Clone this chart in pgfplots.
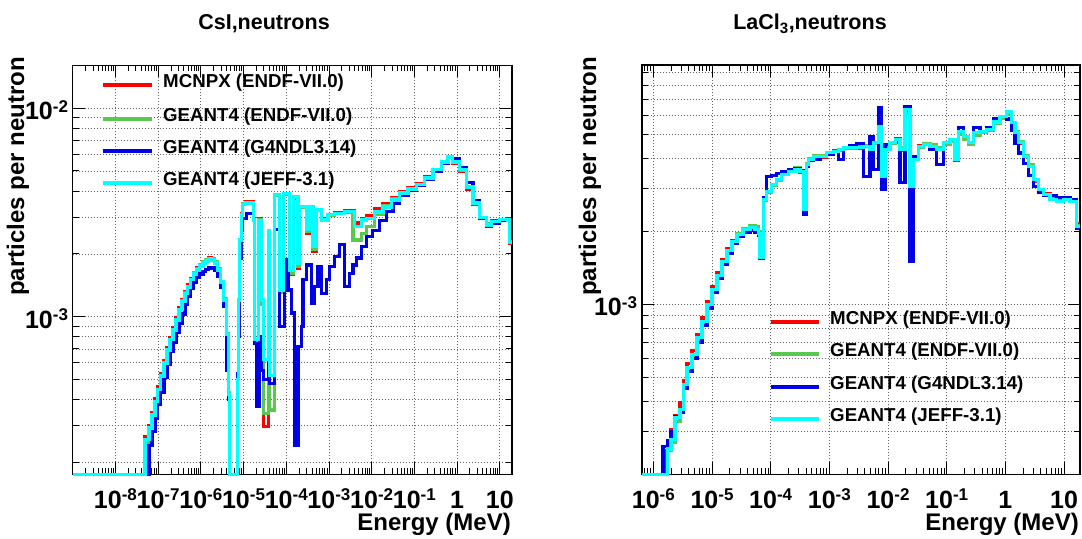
\documentclass[border=0pt]{standalone}
\usepackage{fontspec}
\setmainfont{Liberation Sans}
\usepackage{pgfplots}
\pgfplotsset{compat=1.18}
\definecolor{cred}{RGB}{255,0,0}
\definecolor{cgreen}{RGB}{90,200,80}
\definecolor{cblue}{RGB}{0,0,230}
\definecolor{ccyan}{RGB}{0,255,255}
\newcommand{\tickfont}{\fontsize{25bp}{27bp}\selectfont\bfseries}
\newcommand{\legfont}{\fontsize{18.7bp}{21bp}\selectfont\bfseries}
\newcommand{\labfont}{\fontsize{24bp}{26bp}\selectfont\bfseries}
\newcommand{\titfont}{\fontsize{21.5bp}{24bp}\selectfont\bfseries}
\newcommand{\tl}[1]{10\raisebox{7.5bp}{\fontsize{17bp}{17bp}\selectfont #1}}
\pgfplotsset{
  rootax/.style={
    scale only axis, clip=false,
    axis line style={line width=1.6bp},
    tick pos=both,
    major tick length=12bp, minor tick length=6bp,
    every tick/.style={black, line width=0.9bp},
    xmajorgrids, ymajorgrids, yminorgrids,
    grid style={black!60, line width=0.7bp, dash pattern=on 1bp off 2bp},
    xticklabel style={font=\tickfont, inner sep=0pt, anchor=base, yshift=-34bp},
    yticklabel style={font=\tickfont, inner sep=0pt, anchor=base east, xshift=-4.5bp, yshift=-11.5bp},
  },
  hs/.style={const plot mark left, line width=3.2bp, mark=none},
}
\begin{document}
\begin{tikzpicture}
\useasboundingbox (0,0) rectangle (1082bp,539bp);
% ---------------- left: CsI
\begin{loglogaxis}[rootax,
  at={(72.7bp,64.7bp)}, anchor=south west,
  width=439bp, height=409bp,
  xmin=1e-9, xmax=19, ymin=1.75e-4, ymax=0.01607,
  xtick={1e-8,1e-7,1e-6,1e-5,1e-4,1e-3,1e-2,1e-1,1,10},
  xticklabels={\tl{-8},\tl{-7},\tl{-6},\tl{-5},\tl{-4},\tl{-3},\tl{-2},\tl{-1},1,10},
  minor xtick={2e-9,3e-9,4e-9,5e-9,6e-9,7e-9,8e-9,9e-9,
    2e-8,3e-8,4e-8,5e-8,6e-8,7e-8,8e-8,9e-8,
    2e-7,3e-7,4e-7,5e-7,6e-7,7e-7,8e-7,9e-7,
    2e-6,3e-6,4e-6,5e-6,6e-6,7e-6,8e-6,9e-6,
    2e-5,3e-5,4e-5,5e-5,6e-5,7e-5,8e-5,9e-5,
    2e-4,3e-4,4e-4,5e-4,6e-4,7e-4,8e-4,9e-4,
    2e-3,3e-3,4e-3,5e-3,6e-3,7e-3,8e-3,9e-3,
    2e-2,3e-2,4e-2,5e-2,6e-2,7e-2,8e-2,9e-2,
    0.2,0.3,0.4,0.5,0.6,0.7,0.8,0.9,2,3,4,5,6,7,8,9},
  ytick={1e-3,1e-2},
  yticklabels={\tl{-3},\tl{-2}},
  minor ytick={2e-4,3e-4,4e-4,5e-4,6e-4,7e-4,8e-4,9e-4,
    2e-3,3e-3,4e-3,5e-3,6e-3,7e-3,8e-3,9e-3},
]
% MCNPX
\addplot[hs, cred] coordinates {
(1e-9,1.75e-4)(4.91e-8,2.65e-4)(6.10e-8,3.00e-4)(7.16e-8,3.48e-4)(8.41e-8,4.02e-4)
(9.88e-8,4.60e-4)(1.16e-7,5.35e-4)(1.37e-7,6.15e-4)(1.61e-7,7.10e-4)(1.89e-7,7.95e-4)
(2.22e-7,8.85e-4)(2.61e-7,9.90e-4)(3.07e-7,1.10e-3)(3.61e-7,1.21e-3)(4.24e-7,1.32e-3)
(4.98e-7,1.42e-3)(5.85e-7,1.53e-3)(6.87e-7,1.63e-3)(8.09e-7,1.71e-3)(9.51e-7,1.78e-3)
(1.12e-6,1.84e-3)(1.31e-6,1.88e-3)(1.54e-6,1.91e-3)(1.81e-6,1.89e-3)(2.13e-6,1.83e-3)
(2.51e-6,1.69e-3)(2.94e-6,1.48e-3)(3.46e-6,1.21e-3)(3.96e-6,8.2e-4)(4.41e-6,4.2e-4)
(4.73e-6,1.75e-4)(7.08e-6,5.0e-4)(7.64e-6,1.2e-3)(8.18e-6,2.35e-3)(8.89e-6,3.12e-3)
(9.64e-6,3.50e-3)(1.10e-5,3.55e-3)(1.68e-5,2.95e-3)(1.84e-5,7.5e-4)(2.20e-5,2.95e-3)
(2.64e-5,1.15e-3)(2.88e-5,2.96e-4)(3.77e-5,2.6e-3)(4.12e-5,3.56e-4)(5.20e-5,3.80e-3)
(7.06e-5,1.30e-3)(8.44e-5,3.85e-3)(1.21e-4,1.60e-3)(1.45e-4,3.70e-3)(1.89e-4,1.70e-3)
(2.07e-4,3.37e-3)(2.98e-4,2.50e-3)(3.56e-4,3.37e-3)(4.25e-4,2.05e-3)(5.11e-4,3.25e-3)
(6.68e-4,2.95e-3)(9.53e-4,3.10e-3)(1.37e-3,3.15e-3)(2.34e-3,3.22e-3)(4.02e-3,2.81e-3)
(5.75e-3,2.95e-3)(7.53e-3,3.05e-3)(1.18e-2,3.30e-3)(1.85e-2,3.48e-3)
(2.90e-2,3.72e-3)(4.53e-2,3.98e-3)(7.08e-2,4.15e-3)(0.111,4.35e-3)(0.174,4.70e-3)
(0.272,5.10e-3)(0.428,5.55e-3)(0.611,5.86e-3)(0.787,5.45e-3)(1.15,4.95e-3)
(1.64,4.10e-3)(2.35,3.45e-3)(3.37,2.95e-3)(4.83,2.80e-3)(6.32,2.88e-3)
(9.89,2.93e-3)(15.5,2.95e-3)(16.9,2.25e-3)(19,2.25e-3)};
% GEANT4 ENDF
\addplot[hs, cgreen] coordinates {
(1e-9,1.75e-4)(4.91e-8,2.50e-4)(6.10e-8,2.90e-4)(7.16e-8,3.32e-4)(8.41e-8,3.88e-4)
(9.88e-8,4.42e-4)(1.16e-7,5.15e-4)(1.37e-7,5.95e-4)(1.61e-7,6.90e-4)(1.89e-7,7.75e-4)
(2.22e-7,8.65e-4)(2.61e-7,9.70e-4)(3.07e-7,1.08e-3)(3.61e-7,1.19e-3)(4.24e-7,1.30e-3)
(4.98e-7,1.40e-3)(5.85e-7,1.51e-3)(6.87e-7,1.62e-3)(8.09e-7,1.70e-3)(9.51e-7,1.77e-3)
(1.12e-6,1.83e-3)(1.31e-6,1.87e-3)(1.54e-6,1.90e-3)(1.81e-6,1.89e-3)(2.13e-6,1.84e-3)
(2.51e-6,1.70e-3)(2.94e-6,1.48e-3)(3.46e-6,1.22e-3)(3.96e-6,8.3e-4)(4.41e-6,4.3e-4)
(4.73e-6,1.75e-4)(7.08e-6,5.0e-4)(7.64e-6,1.18e-3)(8.18e-6,2.30e-3)(8.89e-6,3.10e-3)
(9.64e-6,3.48e-3)(1.10e-5,3.54e-3)(1.68e-5,2.93e-3)(1.84e-5,7.6e-4)(2.20e-5,2.92e-3)
(2.64e-5,1.15e-3)(2.88e-5,3.44e-4)(3.77e-5,2.6e-3)(4.12e-5,3.56e-4)(5.20e-5,3.80e-3)
(7.06e-5,1.30e-3)(8.44e-5,3.85e-3)(1.21e-4,1.62e-3)(1.45e-4,3.72e-3)(1.89e-4,1.75e-3)
(2.07e-4,3.35e-3)(2.98e-4,2.55e-3)(3.56e-4,3.35e-3)(4.25e-4,2.10e-3)(5.11e-4,3.22e-3)
(6.68e-4,2.90e-3)(9.53e-4,3.05e-3)(1.37e-3,3.12e-3)(2.34e-3,3.18e-3)(3.66e-3,2.33e-3)
(5.75e-3,2.50e-3)(7.53e-3,2.70e-3)(1.18e-2,3.10e-3)(1.85e-2,3.40e-3)
(2.90e-2,3.68e-3)(4.53e-2,3.95e-3)(7.08e-2,4.12e-3)(0.111,4.32e-3)(0.174,4.66e-3)
(0.272,5.08e-3)(0.428,5.54e-3)(0.611,5.85e-3)(0.787,5.55e-3)(1.15,5.05e-3)
(1.64,4.20e-3)(2.35,3.52e-3)(3.37,2.95e-3)(4.83,2.78e-3)(6.32,2.86e-3)
(9.89,2.92e-3)(15.5,2.93e-3)(16.9,2.28e-3)(19,2.28e-3)};
% GEANT4 G4NDL
\addplot[hs, cblue] coordinates {
(1e-9,1.75e-4)(6.10e-8,2.40e-4)(7.16e-8,2.80e-4)(8.41e-8,3.25e-4)(9.88e-8,3.80e-4)
(1.16e-7,4.35e-4)(1.37e-7,5.10e-4)(1.61e-7,5.90e-4)(1.89e-7,6.80e-4)(2.22e-7,7.55e-4)
(2.61e-7,8.40e-4)(3.07e-7,9.30e-4)(3.61e-7,1.03e-3)(4.24e-7,1.14e-3)(4.98e-7,1.25e-3)
(5.85e-7,1.36e-3)(6.87e-7,1.46e-3)(8.09e-7,1.54e-3)(9.51e-7,1.60e-3)(1.12e-6,1.65e-3)
(1.31e-6,1.69e-3)(1.54e-6,1.72e-3)(1.81e-6,1.71e-3)(2.13e-6,1.66e-3)(2.51e-6,1.56e-3)
(2.94e-6,1.38e-3)(3.46e-6,1.12e-3)(3.96e-6,5.5e-4)(4.41e-6,4.0e-4)(4.73e-6,1.75e-4)
(7.08e-6,5.3e-4)(7.64e-6,8.0e-4)(8.18e-6,1.9e-3)(8.89e-6,2.6e-3)(9.64e-6,2.95e-3)
(1.17e-5,3.13e-3)(1.68e-5,2.91e-3)(1.84e-5,7.45e-4)(2.01e-5,3.70e-4)(2.40e-5,8.0e-4)
(2.64e-5,5.5e-4)(2.88e-5,4.97e-4)(3.77e-5,6.0e-4)(4.12e-5,4.79e-4)(5.40e-5,2.61e-3)
(7.06e-5,8.95e-4)(9.25e-5,1.87e-3)(1.10e-4,1.34e-3)(1.33e-4,1.04e-3)(1.58e-4,2.42e-4)
(1.89e-4,7.18e-4)(2.27e-4,8.95e-4)(2.48e-4,1.50e-3)(2.98e-4,1.77e-3)(3.90e-4,1.16e-3)
(4.66e-4,1.39e-3)(5.56e-4,1.74e-3)(6.68e-4,1.29e-3)(8.75e-4,1.50e-3)(1.045e-3,1.74e-3)
(1.37e-3,1.94e-3)(1.79e-3,2.21e-3)(2.34e-3,1.39e-3)(3.07e-3,1.61e-3)(3.66e-3,1.77e-3)
(4.40e-3,1.91e-3)(5.75e-3,2.17e-3)(7.53e-3,2.42e-3)(1.06e-2,2.60e-3)(1.54e-2,2.90e-3)
(2.21e-2,3.20e-3)(3.16e-2,3.51e-3)(4.53e-2,3.80e-3)(7.08e-2,4.05e-3)(0.111,4.25e-3)
(0.174,4.55e-3)(0.272,5.00e-3)(0.428,5.45e-3)(0.611,5.80e-3)(0.787,5.70e-3)
(1.15,5.20e-3)(1.64,4.40e-3)(2.35,3.60e-3)(3.37,2.95e-3)(4.83,2.72e-3)
(6.32,2.80e-3)(9.89,2.90e-3)(15.5,2.90e-3)(19,2.90e-3)};
% GEANT4 JEFF
\addplot[hs, ccyan] coordinates {
(1e-9,1.75e-4)(4.91e-8,2.56e-4)(6.10e-8,2.92e-4)(7.16e-8,3.37e-4)(8.41e-8,3.90e-4)
(9.88e-8,4.45e-4)(1.16e-7,5.19e-4)(1.37e-7,5.99e-4)(1.61e-7,6.92e-4)(1.89e-7,7.73e-4)
(2.22e-7,8.63e-4)(2.61e-7,9.64e-4)(3.07e-7,1.077e-3)(3.61e-7,1.18e-3)(4.24e-7,1.285e-3)
(4.98e-7,1.388e-3)(5.85e-7,1.50e-3)(6.87e-7,1.60e-3)(8.09e-7,1.675e-3)(9.51e-7,1.75e-3)
(1.12e-6,1.81e-3)(1.31e-6,1.85e-3)(1.54e-6,1.89e-3)(1.81e-6,1.87e-3)(2.13e-6,1.81e-3)
(2.51e-6,1.675e-3)(2.94e-6,1.467e-3)(3.46e-6,1.20e-3)(3.96e-6,8.17e-4)(4.41e-6,4.21e-4)
(4.73e-6,1.75e-4)(7.08e-6,4.97e-4)(7.64e-6,1.20e-3)(8.18e-6,2.33e-3)(8.89e-6,3.08e-3)
(9.64e-6,3.44e-3)(1.10e-5,3.51e-3)(1.68e-5,2.91e-3)(1.84e-5,7.73e-4)(2.20e-5,2.90e-3)
(2.64e-5,1.20e-3)(2.88e-5,6.20e-4)(3.77e-5,2.60e-3)(4.12e-5,5.20e-4)(5.20e-5,3.84e-3)
(7.06e-5,1.34e-3)(8.44e-5,3.91e-3)(1.21e-4,1.67e-3)(1.45e-4,3.77e-3)(1.89e-4,1.80e-3)
(2.07e-4,3.37e-3)(2.98e-4,2.61e-3)(3.56e-4,3.37e-3)(4.25e-4,2.17e-3)(5.11e-4,3.25e-3)
(6.68e-4,2.91e-3)(9.53e-4,3.08e-3)(1.37e-3,3.13e-3)(2.34e-3,3.19e-3)(4.02e-3,2.70e-3)
(5.75e-3,2.91e-3)(7.53e-3,2.95e-3)(1.18e-2,3.18e-3)(1.85e-2,3.36e-3)
(2.90e-2,3.63e-3)(4.53e-2,3.92e-3)(7.08e-2,4.10e-3)(0.111,4.29e-3)(0.174,4.63e-3)
(0.272,5.06e-3)(0.428,5.52e-3)(0.611,5.84e-3)(0.787,5.52e-3)(1.15,5.06e-3)
(1.64,4.19e-3)(2.35,3.51e-3)(3.37,2.98e-3)(4.83,2.75e-3)(6.32,2.85e-3)
(9.89,2.93e-3)(15.5,2.91e-3)(16.9,2.26e-3)(19,2.26e-3)};
\end{loglogaxis}
% ---------------- right: LaCl3
\begin{loglogaxis}[rootax,
  at={(641.7bp,64.7bp)}, anchor=south west,
  width=438.3bp, height=409.3bp,
  xmin=6.34e-7, xmax=18.7, ymin=2.0e-4, ymax=9.67e-3,
  xtick={1e-6,1e-5,1e-4,1e-3,1e-2,1e-1,1,10},
  xticklabels={\tl{-6},\tl{-5},\tl{-4},\tl{-3},\tl{-2},\tl{-1},1,10},
  minor xtick={7e-7,8e-7,9e-7,
    2e-6,3e-6,4e-6,5e-6,6e-6,7e-6,8e-6,9e-6,
    2e-5,3e-5,4e-5,5e-5,6e-5,7e-5,8e-5,9e-5,
    2e-4,3e-4,4e-4,5e-4,6e-4,7e-4,8e-4,9e-4,
    2e-3,3e-3,4e-3,5e-3,6e-3,7e-3,8e-3,9e-3,
    2e-2,3e-2,4e-2,5e-2,6e-2,7e-2,8e-2,9e-2,
    0.2,0.3,0.4,0.5,0.6,0.7,0.8,0.9,2,3,4,5,6,7,8,9},
  ytick={1e-3},
  yticklabels={\tl{-3}},
  minor ytick={2e-4,3e-4,4e-4,5e-4,6e-4,7e-4,8e-4,9e-4,
    2e-3,3e-3,4e-3,5e-3,6e-3,7e-3,8e-3,9e-3},
]
\addplot[hs, cred] coordinates {
(6.34e-7,2.0e-4)(1.60e-6,2.50e-4)(1.75e-6,2.65e-4)(2.00e-6,3.05e-4)(2.34e-6,3.50e-4)
(2.85e-6,3.95e-4)(3.27e-6,4.85e-4)(3.75e-6,5.70e-4)(4.57e-6,6.45e-4)(5.56e-6,7.55e-4)
(6.76e-6,8.80e-4)(8.22e-6,1.03e-3)(1.00e-5,1.18e-3)(1.22e-5,1.35e-3)(1.48e-5,1.53e-3)
(1.80e-5,1.69e-3)(2.19e-5,1.84e-3)(2.67e-5,1.96e-3)(3.38e-5,2.05e-3)(4.45e-5,2.08e-3)
(5.41e-5,2.04e-3)(6.17e-5,1.97e-3)(6.59e-5,1.57e-3)(7.50e-5,2.68e-3)(8.57e-5,2.90e-3)
(1.04e-4,3.10e-3)(1.27e-4,3.26e-3)(1.55e-4,3.44e-3)(2.00e-4,3.55e-3)(2.60e-4,3.60e-3)
(3.16e-4,3.50e-3)(3.60e-4,2.50e-3)(4.12e-4,3.78e-3)(4.39e-4,4.00e-3)(5.33e-4,4.10e-3)
(6.93e-4,4.02e-3)(9.03e-4,4.20e-3)(1.17e-3,4.28e-3)(1.42e-3,4.35e-3)(1.73e-3,4.40e-3)
(2.25e-3,4.44e-3)(2.93e-3,4.40e-3)(3.79e-3,4.50e-3)(4.94e-3,4.35e-3)(5.62e-3,4.65e-3)
(6.84e-3,5.30e-3)(7.82e-3,3.40e-3)(8.89e-3,4.35e-3)(1.08e-2,4.65e-3)(1.32e-2,4.80e-3)
(1.60e-2,4.30e-3)(1.95e-2,6.20e-3)(2.37e-2,3.10e-3)(2.70e-2,3.95e-3)(3.29e-2,4.50e-3)
(4.00e-2,4.60e-3)(5.20e-2,4.50e-3)(6.76e-2,4.35e-3)(8.77e-2,4.65e-3)(0.114,4.70e-3)
(0.139,3.90e-3)(0.158,5.10e-3)(0.192,4.85e-3)(0.234,4.60e-3)(0.284,5.05e-3)
(0.370,5.15e-3)(0.482,5.25e-3)(0.624,5.60e-3)(0.811,5.90e-3)(1.056,6.10e-3)
(1.285,5.55e-3)(1.462,5.05e-3)(1.665,4.60e-3)(2.02,4.05e-3)(2.46,3.70e-3)
(3.00,3.20e-3)(3.65,2.95e-3)(4.44,2.85e-3)(5.78,2.75e-3)(7.52,2.70e-3)
(9.73,2.72e-3)(12.6,2.70e-3)(16.5,2.15e-3)(18.7,2.15e-3)};
\addplot[hs, cgreen] coordinates {
(6.34e-7,2.0e-4)(1.75e-6,2.50e-4)(2.00e-6,2.70e-4)(2.34e-6,3.30e-4)(2.85e-6,3.60e-4)
(3.27e-6,4.60e-4)(3.75e-6,5.40e-4)(4.57e-6,6.10e-4)(5.56e-6,7.20e-4)(6.76e-6,8.40e-4)
(8.22e-6,9.90e-4)(1.00e-5,1.14e-3)(1.22e-5,1.31e-3)(1.48e-5,1.50e-3)(1.80e-5,1.67e-3)
(2.19e-5,1.82e-3)(2.67e-5,1.95e-3)(3.38e-5,2.06e-3)(4.45e-5,2.12e-3)(5.41e-5,2.10e-3)
(6.17e-5,1.99e-3)(6.59e-5,1.58e-3)(7.50e-5,2.68e-3)(8.57e-5,2.88e-3)(1.04e-4,3.08e-3)
(1.27e-4,3.25e-3)(1.55e-4,3.45e-3)(2.00e-4,3.55e-3)(2.60e-4,3.65e-3)(3.16e-4,3.55e-3)
(3.60e-4,2.50e-3)(4.12e-4,3.80e-3)(4.39e-4,3.98e-3)(5.33e-4,4.08e-3)(6.93e-4,4.08e-3)
(9.03e-4,4.22e-3)(1.17e-3,4.25e-3)(1.42e-3,4.30e-3)(1.73e-3,4.38e-3)(2.25e-3,4.40e-3)
(2.93e-3,4.45e-3)(3.79e-3,4.50e-3)(4.94e-3,4.40e-3)(5.62e-3,4.60e-3)(6.84e-3,5.25e-3)
(7.82e-3,3.45e-3)(8.89e-3,4.40e-3)(1.08e-2,4.60e-3)(1.32e-2,4.75e-3)(1.60e-2,4.40e-3)
(1.95e-2,6.10e-3)(2.37e-2,3.15e-3)(2.70e-2,4.00e-3)(3.29e-2,4.45e-3)(4.00e-2,4.60e-3)
(5.20e-2,4.55e-3)(6.76e-2,4.40e-3)(8.77e-2,4.55e-3)(0.114,4.70e-3)(0.139,4.00e-3)
(0.158,5.00e-3)(0.192,4.80e-3)(0.234,4.55e-3)(0.284,4.95e-3)(0.370,5.10e-3)
(0.482,5.20e-3)(0.624,5.55e-3)(0.811,5.85e-3)(1.056,6.05e-3)(1.285,5.60e-3)
(1.462,5.15e-3)(1.665,4.70e-3)(2.02,4.10e-3)(2.46,3.75e-3)(3.00,3.25e-3)
(3.65,2.92e-3)(4.44,2.80e-3)(5.78,2.72e-3)(7.52,2.68e-3)(9.73,2.70e-3)
(12.6,2.68e-3)(16.5,2.12e-3)(18.7,2.12e-3)};
\addplot[hs, cblue] coordinates {
(6.34e-7,2.0e-4)(1.46e-6,2.60e-4)(1.75e-6,2.75e-4)(2.00e-6,3.00e-4)(2.34e-6,3.45e-4)
(2.85e-6,3.60e-4)(3.27e-6,4.50e-4)(3.75e-6,5.30e-4)(4.57e-6,6.00e-4)(5.56e-6,7.00e-4)
(6.76e-6,8.20e-4)(8.22e-6,9.60e-4)(1.00e-5,1.12e-3)(1.22e-5,1.28e-3)(1.48e-5,1.46e-3)
(1.80e-5,1.62e-3)(2.19e-5,1.78e-3)(2.67e-5,1.90e-3)(3.38e-5,1.98e-3)(4.45e-5,2.02e-3)
(5.41e-5,1.98e-3)(6.17e-5,1.92e-3)(6.59e-5,1.55e-3)(7.50e-5,2.75e-3)(8.57e-5,3.36e-3)
(1.04e-4,3.40e-3)(1.27e-4,3.45e-3)(1.55e-4,3.52e-3)(2.00e-4,3.58e-3)(2.60e-4,3.62e-3)
(3.16e-4,3.55e-3)(3.60e-4,2.34e-3)(4.12e-4,3.70e-3)(4.39e-4,3.90e-3)(5.33e-4,3.95e-3)
(6.93e-4,4.05e-3)(9.03e-4,4.15e-3)(1.17e-3,4.25e-3)(1.42e-3,3.94e-3)(1.73e-3,4.41e-3)
(2.25e-3,4.50e-3)(2.93e-3,4.60e-3)(3.79e-3,3.36e-3)(4.94e-3,4.90e-3)(5.62e-3,3.58e-3)
(6.84e-3,6.43e-3)(7.82e-3,2.97e-3)(8.89e-3,4.54e-3)(1.08e-2,4.63e-3)(1.32e-2,4.63e-3)
(1.60e-2,3.17e-3)(1.95e-2,6.52e-3)(2.37e-2,1.51e-3)(2.70e-2,4.05e-3)(3.29e-2,4.46e-3)
(4.00e-2,4.54e-3)(5.20e-2,4.33e-3)(6.76e-2,3.76e-3)(8.77e-2,4.63e-3)(0.114,4.76e-3)
(0.139,3.94e-3)(0.158,5.33e-3)(0.192,4.90e-3)(0.234,4.63e-3)(0.284,5.33e-3)
(0.370,5.13e-3)(0.482,5.33e-3)(0.624,5.80e-3)(0.811,5.92e-3)(1.056,5.80e-3)
(1.285,5.20e-3)(1.462,4.60e-3)(1.665,4.20e-3)(2.02,3.80e-3)(2.46,3.40e-3)
(3.00,3.05e-3)(3.65,2.90e-3)(4.44,2.80e-3)(5.78,2.80e-3)(7.52,2.75e-3)
(9.73,2.75e-3)(12.6,2.70e-3)(16.5,2.05e-3)(18.7,2.05e-3)};
\addplot[hs, ccyan] coordinates {
(6.34e-7,2.0e-4)(1.75e-6,2.54e-4)(2.00e-6,2.79e-4)(2.34e-6,3.43e-4)(2.85e-6,3.71e-4)
(3.27e-6,4.69e-4)(3.75e-6,5.51e-4)(4.57e-6,6.23e-4)(5.56e-6,7.32e-4)(6.76e-6,8.52e-4)
(8.22e-6,1.00e-3)(1.00e-5,1.152e-3)(1.22e-5,1.315e-3)(1.48e-5,1.502e-3)(1.80e-5,1.667e-3)
(2.19e-5,1.814e-3)(2.67e-5,1.939e-3)(3.38e-5,2.03e-3)(4.45e-5,2.07e-3)(5.41e-5,2.03e-3)
(6.17e-5,1.957e-3)(6.59e-5,1.56e-3)(7.50e-5,2.70e-3)(8.57e-5,2.91e-3)(1.04e-4,3.11e-3)
(1.27e-4,3.26e-3)(1.55e-4,3.42e-3)(2.00e-4,3.52e-3)(2.60e-4,3.58e-3)(3.16e-4,3.52e-3)
(3.60e-4,2.46e-3)(4.12e-4,3.76e-3)(4.39e-4,3.94e-3)(5.33e-4,4.05e-3)(6.93e-4,4.05e-3)
(9.03e-4,4.21e-3)(1.17e-3,4.25e-3)(1.42e-3,4.33e-3)(1.73e-3,4.41e-3)(2.25e-3,4.41e-3)
(2.93e-3,4.41e-3)(3.79e-3,4.46e-3)(4.94e-3,4.33e-3)(5.62e-3,4.63e-3)(6.84e-3,5.38e-3)
(7.82e-3,3.36e-3)(8.89e-3,4.33e-3)(1.08e-2,4.63e-3)(1.32e-2,4.76e-3)(1.60e-2,4.33e-3)
(1.95e-2,6.32e-3)(2.37e-2,3.05e-3)(2.70e-2,3.94e-3)(3.29e-2,4.46e-3)(4.00e-2,4.54e-3)
(5.20e-2,4.46e-3)(6.76e-2,4.33e-3)(8.77e-2,4.63e-3)(0.114,4.76e-3)(0.139,3.94e-3)
(0.158,5.13e-3)(0.192,4.90e-3)(0.234,4.63e-3)(0.284,5.09e-3)(0.370,5.13e-3)
(0.482,5.23e-3)(0.624,5.64e-3)(0.811,5.92e-3)(1.056,6.20e-3)(1.285,5.59e-3)
(1.462,5.09e-3)(1.665,4.63e-3)(2.02,4.05e-3)(2.46,3.69e-3)(3.00,3.26e-3)
(3.65,2.97e-3)(4.44,2.83e-3)(5.78,2.70e-3)(7.52,2.65e-3)(9.73,2.70e-3)
(12.6,2.65e-3)(16.5,2.09e-3)(18.7,2.09e-3)};
\end{loglogaxis}
% ---------------- titles and axis titles
\node[font=\titfont, anchor=base] at (264bp,509bp) {CsI,neutrons};
\node[font=\titfont, anchor=base] at (810bp,509bp) {LaCl\textsubscript{3},neutrons};
\node[font=\labfont, rotate=90, anchor=east, inner sep=0pt] at (18bp,482bp) {particles per neutron};
\node[font=\labfont, rotate=90, anchor=east, inner sep=0pt] at (590bp,482bp) {particles per neutron};
\node[font=\labfont, anchor=base east, inner sep=0pt] at (511bp,8.5bp) {Energy (MeV)};
\node[font=\labfont, anchor=base east, inner sep=0pt] at (1079bp,8.5bp) {Energy (MeV)};
% ---------------- legends
\draw[cred, line width=3.2bp] (103bp,454bp) -- (152bp,454bp);
\draw[cgreen, line width=3.2bp] (103bp,420bp) -- (152bp,420bp);
\draw[cblue, line width=3.2bp] (103bp,388bp) -- (152bp,388bp);
\draw[ccyan, line width=3.2bp] (103bp,356bp) -- (152bp,356bp);
\node[font=\legfont, anchor=mid west, inner sep=0pt] at (163bp,454bp) {MCNPX (ENDF-VII.0)};
\node[font=\legfont, anchor=mid west, inner sep=0pt] at (163bp,420bp) {GEANT4 (ENDF-VII.0)};
\node[font=\legfont, anchor=mid west, inner sep=0pt] at (163bp,388bp) {GEANT4 (G4NDL3.14)};
\node[font=\legfont, anchor=mid west, inner sep=0pt] at (163bp,356bp) {GEANT4 (JEFF-3.1)};
\draw[cred, line width=3.2bp] (771bp,217bp) -- (819bp,217bp);
\draw[cgreen, line width=3.2bp] (771bp,185bp) -- (819bp,185bp);
\draw[cblue, line width=3.2bp] (771bp,152bp) -- (819bp,152bp);
\draw[ccyan, line width=3.2bp] (771bp,120bp) -- (819bp,120bp);
\node[font=\legfont, anchor=mid west, inner sep=0pt] at (830bp,217bp) {MCNPX (ENDF-VII.0)};
\node[font=\legfont, anchor=mid west, inner sep=0pt] at (830bp,185bp) {GEANT4 (ENDF-VII.0)};
\node[font=\legfont, anchor=mid west, inner sep=0pt] at (830bp,152bp) {GEANT4 (G4NDL3.14)};
\node[font=\legfont, anchor=mid west, inner sep=0pt] at (830bp,120bp) {GEANT4 (JEFF-3.1)};
\end{tikzpicture}
\end{document}
